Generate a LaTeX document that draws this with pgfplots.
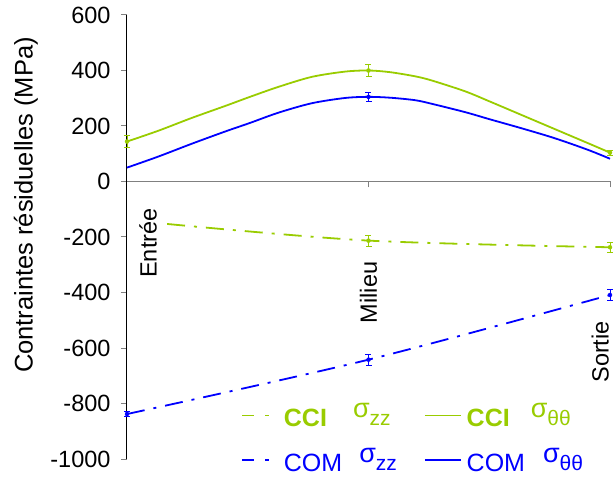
\documentclass[border=0pt]{standalone}
\usepackage{fontspec}
\setmainfont{Liberation Sans}
\usepackage{pgfplots}
\pgfplotsset{compat=1.18}
\definecolor{ccigreen}{RGB}{153,204,0}
\definecolor{comblue}{RGB}{0,0,255}
\newcommand{\tfont}{\fontsize{23.5}{23.5}\selectfont}
\newcommand{\sig}[2]{\raisebox{9pt}{\fontsize{27}{27}\selectfont σ}\raisebox{1pt}{\fontsize{21}{21}\selectfont #2}}
\begin{document}
\begin{tikzpicture}
\begin{axis}[
  at={(0pt,0pt)}, anchor=south west,
  scale only axis, width=483pt, height=444pt,
  xmin=0, xmax=2, ymin=-1000, ymax=600,
  clip=false,
  axis x line=middle, axis y line=left,
  axis line style={-},
  x axis line style={draw=gray, line width=1.3pt},
  y axis line style={draw=black, line width=1pt},
  xtick={1,2}, xticklabels={},
  ytick={-1000,-800,-600,-400,-200,0,200,400,600},
  yticklabels={-1000,-800,-600,-400,-200,0,200,400,600},
  tick align=outside,
  major tick length=6pt,
  every tick/.style={gray, line width=1pt},
  y tick label style={font=\tfont, xshift=-7pt},
  ylabel={Contraintes résiduelles (MPa)},
  every axis y label/.style={at={(rel axis cs:0,0.572)}, xshift=-101pt, rotate=90, anchor=center, font=\fontsize{25.5}{25.5}\selectfont},
  legend columns=2,
  legend image code/.code={\draw[#1] (0pt,0pt) -- (36pt,0pt);},
  legend style={at={(rel axis cs:0.2297,0.133)}, anchor=north west, draw=none, fill=none,
    font=\fontsize{25}{25}\selectfont, row sep=18pt,
    /tikz/every even column/.append style={column sep=22pt},
    nodes={inner xsep=5pt, inner ysep=1pt}},
  legend cell align=left,
]
% CCI sigma theta theta (green solid)
\addplot[ccigreen, line width=1.8pt, smooth, forget plot] coordinates {
 (0,144) (0.130,183) (0.268,229) (0.406,272) (0.509,305) (0.627,341) (0.765,377) (0.903,396)
 (1.0,400) (1.089,394) (1.193,379) (1.262,364) (1.400,325) (1.503,288) (1.633,240) (1.771,189) (1.909,138) (2,104)};
% COM sigma theta theta (blue solid)
\addplot[comblue, line width=1.8pt, smooth, forget plot] coordinates {
 (0,50) (0.130,90) (0.268,136) (0.406,180) (0.509,211) (0.627,248) (0.765,282) (0.903,301)
 (1.0,305) (1.089,302) (1.193,293) (1.262,280) (1.400,250) (1.503,224) (1.633,192) (1.771,156) (1.909,114) (2,82)};
% CCI sigma zz (green dash-dot)
\addplot[ccigreen, line width=1.8pt, smooth, dash pattern=on 18pt off 9pt on 3pt off 9pt, forget plot] coordinates {
 (0.166,-153) (1,-213) (2,-237)};
% COM sigma zz (blue dash-dot)
\addplot[comblue, line width=1.8pt, smooth, dash pattern=on 18pt off 9pt on 3pt off 9pt, forget plot] coordinates {
 (0,-838) (1,-642) (2,-409)};
% error bars
\addplot[ccigreen, only marks, mark=none, forget plot,
  error bars/.cd, y dir=both, y explicit,
  error bar style={line width=0.7pt, solid},
  error mark options={rotate=90, mark size=3pt, line width=0.7pt, ccigreen}]
  coordinates {(0,144) +- (0,22) (1,400) +- (0,22) (2,104) +- (0,9) (1,-213) +- (0,19) (2,-237) +- (0,19)};
\addplot[comblue, only marks, mark=none, forget plot,
  error bars/.cd, y dir=both, y explicit,
  error bar style={line width=0.7pt, solid},
  error mark options={rotate=90, mark size=3pt, line width=0.7pt, comblue}]
  coordinates {(1,305) +- (0,17) (0,-838) +- (0,10) (1,-642) +- (0,20) (2,-409) +- (0,19)};
% legend
\addlegendimage{ccigreen, line width=1.8pt, dash pattern=on 12pt off 11pt on 4pt off 20pt}
\addlegendentry[text=ccigreen]{\textbf{CCI}\hspace{26pt}\sig{}{zz}}
\addlegendimage{ccigreen, line width=1.8pt}
\addlegendentry[text=ccigreen]{\textbf{CCI}\hspace{21pt}\sig{}{θθ}}
\addlegendimage{comblue, line width=1.8pt, dash pattern=on 12pt off 11pt on 4pt off 20pt}
\addlegendentry[text=comblue]{COM\hspace{17pt}\sig{}{zz}}
\addlegendimage{comblue, line width=1.8pt}
\addlegendentry[text=comblue]{COM\hspace{18pt}\sig{}{θθ}}
% category labels
\node[rotate=90, font=\tfont, anchor=center] at (axis cs:0.087,-222) {Entrée};
\node[rotate=90, font=\tfont, anchor=center] at (axis cs:1.0,-400) {Milieu};
\node[rotate=90, font=\tfont, anchor=center, inner sep=1pt] at (axis cs:1.96,-614) {Sortie};
\end{axis}
\pgfresetboundingbox
\path (-127pt,-18pt) rectangle (486pt,459pt);
\end{tikzpicture}
\end{document}
